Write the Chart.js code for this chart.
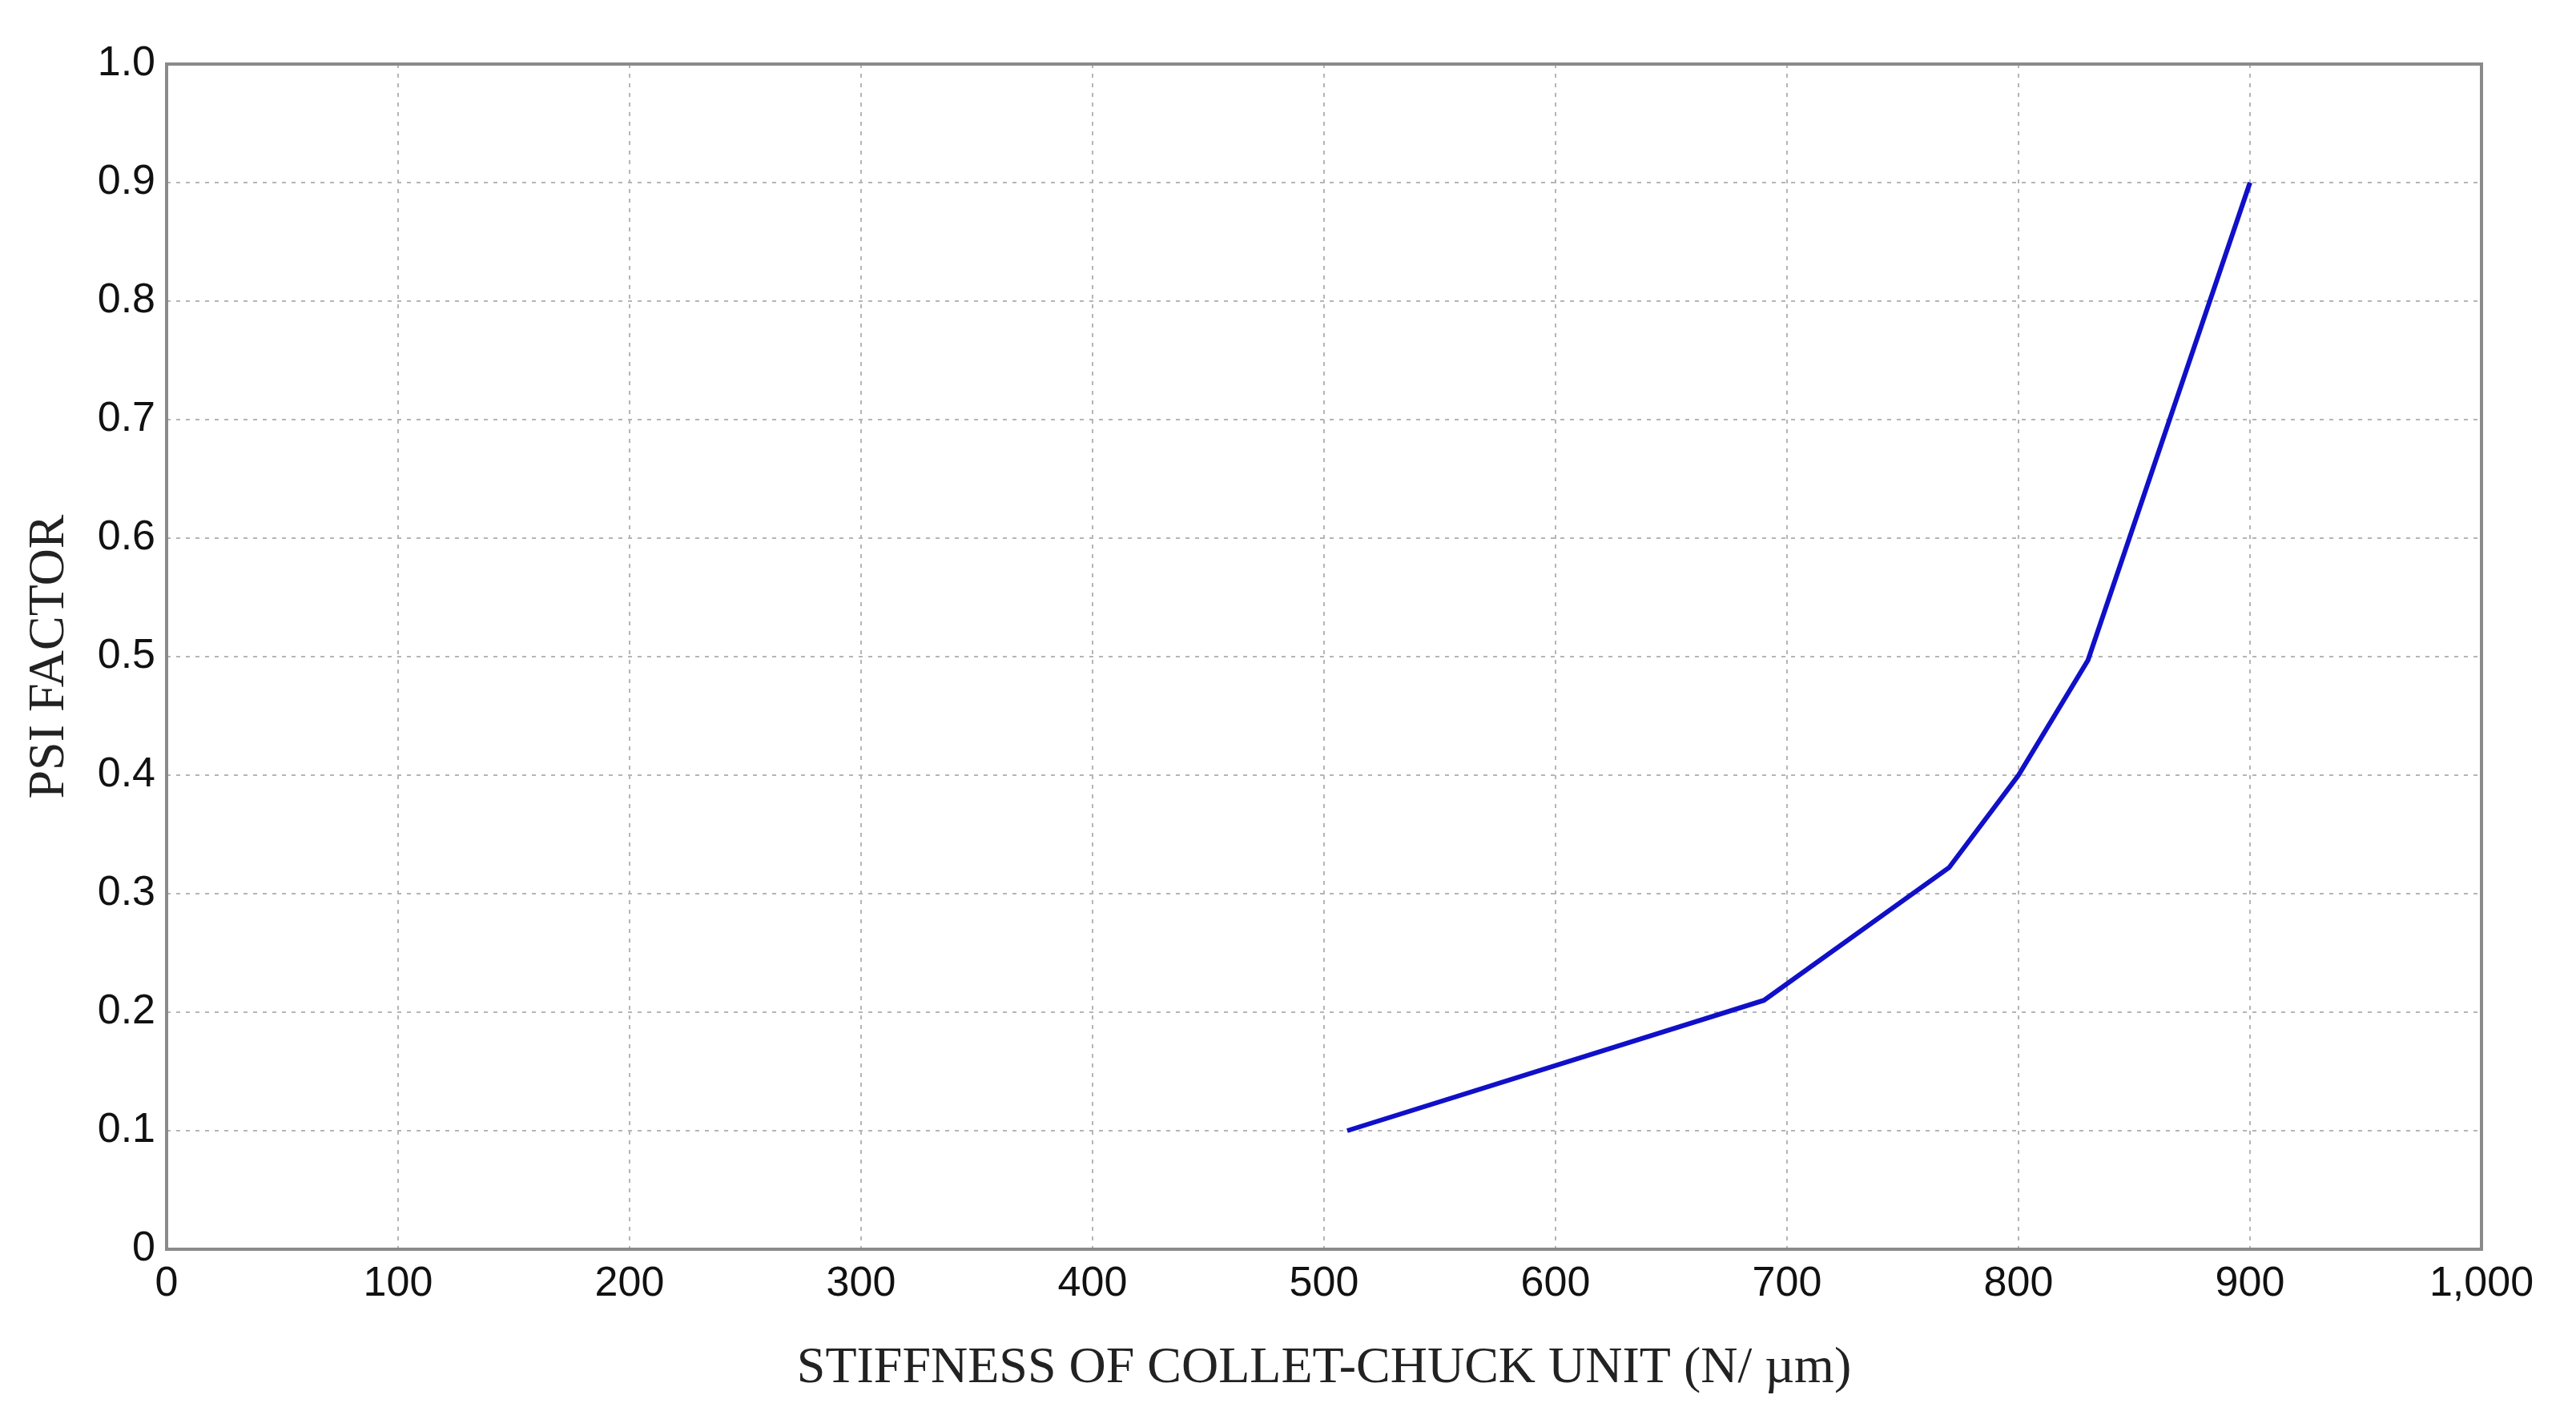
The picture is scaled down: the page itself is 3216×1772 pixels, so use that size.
<!DOCTYPE html>
<html>
<head>
<meta charset="utf-8">
<script src="https://cdn.jsdelivr.net/npm/chart.js@4"></script>
<style>
  html, body { margin: 0; padding: 0; background: #fff; }
  #wrap { width: 3216px; height: 1772px; }
</style>
</head>
<body>
<div id="wrap"><canvas id="chart"></canvas></div>
<script>
const stiffness = [510, 690, 770, 800, 830, 900];
const psiFactor = [0.10, 0.21, 0.322, 0.40, 0.497, 0.90];
const xTicks = [0, 100, 200, 300, 400, 500, 600, 700, 800, 900, 1000];
const yTicks = [0, 0.1, 0.2, 0.3, 0.4, 0.5, 0.6, 0.7, 0.8, 0.9, 1];

const boxPlugin = {
  id: 'box',
  afterDraw(chart) {
    const { ctx, chartArea: a } = chart;
    ctx.save();
    ctx.strokeStyle = '#8a8a8a';
    ctx.lineWidth = 4;
    ctx.strokeRect(a.left, a.top, a.right - a.left, a.bottom - a.top);
    ctx.restore();
  }
};

const gridStyle = {
  color: '#b5b5b5',
  lineWidth: 2,
  drawTicks: false,
};

new Chart(document.getElementById('chart').getContext('2d'), {
  type: 'line',
  data: {
    datasets: [{
      data: stiffness.map((x, i) => ({ x, y: psiFactor[i] })),
      borderColor: '#1010c8',
      borderWidth: 6,
      pointRadius: 0,
      tension: 0,
    }]
  },
  options: {
    responsive: true,
    maintainAspectRatio: false,
    animation: false,
    layout: { padding: { top: 80, right: 118, left: 20, bottom: 20 } },
    plugins: { legend: { display: false }, tooltip: { enabled: false } },
    scales: {
      x: {
        type: 'linear', min: 0, max: 1000,
        afterBuildTicks: (s) => { s.ticks = xTicks.map(v => ({ value: v })); },
        afterFit: (s) => { s.height = 192; },
        grid: gridStyle,
        border: { dash: [5, 7], display: false },
        ticks: { color: '#111', padding: 12, maxRotation: 0,
          font: { family: 'Liberation Sans, Arial, sans-serif', size: 52 } },
        title: { display: true, text: 'STIFFNESS OF COLLET-CHUCK UNIT (N/ µm)', color: '#222',
          padding: { top: 0 },
          font: { family: 'Liberation Serif, Times New Roman, serif', size: 64 } },
      },
      y: {
        min: 0, max: 1,
        afterBuildTicks: (s) => { s.ticks = yTicks.map(v => ({ value: v })); },
        afterFit: (s) => { s.width = 188; },
        grid: gridStyle,
        border: { dash: [5, 7], display: false },
        ticks: { color: '#111', padding: 14,
          font: { family: 'Liberation Sans, Arial, sans-serif', size: 52 } },
        title: { display: true, text: 'PSI FACTOR', color: '#222', padding: { bottom: 4 },
          font: { family: 'Liberation Serif, Times New Roman, serif', size: 64 } },
      }
    }
  },
  plugins: [boxPlugin]
});
</script>
</body>
</html>
